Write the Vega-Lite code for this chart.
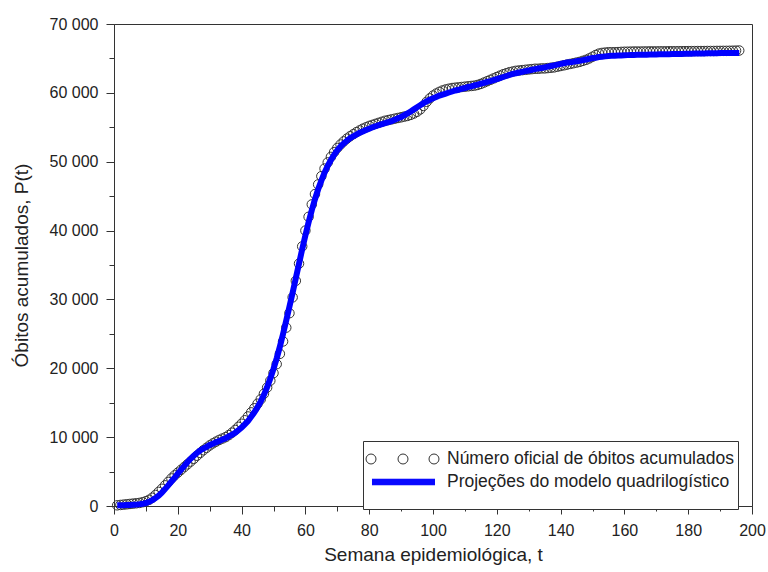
{
  "$schema": "https://vega.github.io/schema/vega-lite/v6.json",
  "width": 638,
  "height": 482,
  "autosize": "none",
  "padding": {"left": 114, "top": 24, "right": 16, "bottom": 66},
  "background": "white",
  "config": {"view": {"stroke": "#333333", "strokeWidth": 1}, "font": "Liberation Sans"},
  "resolve": {"legend": {"color": "independent"}},
  "data": {"values": [
    {"t":1,"obs":100,"model":100},{"t":2,"obs":150,"model":110},{"t":3,"obs":200,"model":120},{"t":4,"obs":250,"model":130},{"t":5,"obs":300,"model":150},
    {"t":6,"obs":350,"model":170},{"t":7,"obs":400,"model":200},{"t":8,"obs":450,"model":250},{"t":9,"obs":550,"model":320},{"t":10,"obs":700,"model":430},
    {"t":11,"obs":900,"model":600},{"t":12,"obs":1200,"model":850},{"t":13,"obs":1600,"model":1150},{"t":14,"obs":2050,"model":1500},{"t":15,"obs":2500,"model":1950},
    {"t":16,"obs":3000,"model":2450},{"t":17,"obs":3500,"model":3000},{"t":18,"obs":4000,"model":3550},{"t":19,"obs":4450,"model":4100},{"t":20,"obs":4850,"model":4700},
    {"t":21,"obs":5250,"model":5250},{"t":22,"obs":5650,"model":5800},{"t":23,"obs":6050,"model":6350},{"t":24,"obs":6450,"model":6850},{"t":25,"obs":6850,"model":7300},
    {"t":26,"obs":7300,"model":7700},{"t":27,"obs":7700,"model":8050},{"t":28,"obs":8100,"model":8350},{"t":29,"obs":8450,"model":8600},{"t":30,"obs":8800,"model":8850},
    {"t":31,"obs":9100,"model":9050},{"t":32,"obs":9350,"model":9250},{"t":33,"obs":9600,"model":9450},{"t":34,"obs":9800,"model":9650},{"t":35,"obs":10000,"model":9850},
    {"t":36,"obs":10300,"model":10100},{"t":37,"obs":10650,"model":10350},{"t":38,"obs":11050,"model":10650},{"t":39,"obs":11500,"model":11000},{"t":40,"obs":11950,"model":11400},
    {"t":41,"obs":12450,"model":11850},{"t":42,"obs":13000,"model":12350},{"t":43,"obs":13600,"model":12950},{"t":44,"obs":14200,"model":13600},{"t":45,"obs":14850,"model":14350},
    {"t":46,"obs":15500,"model":15200},{"t":47,"obs":16300,"model":16150},{"t":48,"obs":17200,"model":17250},{"t":49,"obs":18200,"model":18500},{"t":50,"obs":19300,"model":19900},
    {"t":51,"obs":20600,"model":21450},{"t":52,"obs":22100,"model":23150},{"t":53,"obs":23900,"model":25000},{"t":54,"obs":25900,"model":26950},{"t":55,"obs":28000,"model":28950},
    {"t":56,"obs":30300,"model":31000},{"t":57,"obs":32700,"model":33100},{"t":58,"obs":35200,"model":35200},{"t":59,"obs":37700,"model":37300},{"t":60,"obs":40000,"model":39300},
    {"t":61,"obs":42000,"model":41200},{"t":62,"obs":43800,"model":42950},{"t":63,"obs":45300,"model":44550},{"t":64,"obs":46700,"model":46000},{"t":65,"obs":47900,"model":47250},
    {"t":66,"obs":49000,"model":48400},{"t":67,"obs":49900,"model":49400},{"t":68,"obs":50700,"model":50250},{"t":69,"obs":51400,"model":51000},{"t":70,"obs":52000,"model":51650},
    {"t":71,"obs":52500,"model":52200},{"t":72,"obs":52950,"model":52650},{"t":73,"obs":53350,"model":53050},{"t":74,"obs":53700,"model":53400},{"t":75,"obs":54000,"model":53700},
    {"t":76,"obs":54300,"model":53950},{"t":77,"obs":54550,"model":54200},{"t":78,"obs":54800,"model":54400},{"t":79,"obs":55000,"model":54600},{"t":80,"obs":55200,"model":54800},
    {"t":81,"obs":55350,"model":55000},{"t":82,"obs":55500,"model":55150},{"t":83,"obs":55650,"model":55300},{"t":84,"obs":55800,"model":55450},{"t":85,"obs":55950,"model":55600},
    {"t":86,"obs":56050,"model":55750},{"t":87,"obs":56150,"model":55900},{"t":88,"obs":56250,"model":56100},{"t":89,"obs":56350,"model":56300},{"t":90,"obs":56450,"model":56500},
    {"t":91,"obs":56550,"model":56750},{"t":92,"obs":56650,"model":57000},{"t":93,"obs":56800,"model":57300},{"t":94,"obs":57000,"model":57600},{"t":95,"obs":57250,"model":57900},
    {"t":96,"obs":57600,"model":58200},{"t":97,"obs":58100,"model":58500},{"t":98,"obs":58700,"model":58750},{"t":99,"obs":59200,"model":59000},{"t":100,"obs":59600,"model":59200},
    {"t":101,"obs":59900,"model":59400},{"t":102,"obs":60150,"model":59600},{"t":103,"obs":60350,"model":59750},{"t":104,"obs":60500,"model":59900},{"t":105,"obs":60600,"model":60050},
    {"t":106,"obs":60700,"model":60200},{"t":107,"obs":60750,"model":60350},{"t":108,"obs":60800,"model":60450},{"t":109,"obs":60850,"model":60600},{"t":110,"obs":60900,"model":60700},
    {"t":111,"obs":60950,"model":60850},{"t":112,"obs":61000,"model":60950},{"t":113,"obs":61050,"model":61100},{"t":114,"obs":61150,"model":61200},{"t":115,"obs":61300,"model":61350},
    {"t":116,"obs":61500,"model":61450},{"t":117,"obs":61700,"model":61600},{"t":118,"obs":61900,"model":61700},{"t":119,"obs":62100,"model":61850},{"t":120,"obs":62300,"model":62000},
    {"t":121,"obs":62500,"model":62150},{"t":122,"obs":62700,"model":62300},{"t":123,"obs":62850,"model":62450},{"t":124,"obs":63000,"model":62600},{"t":125,"obs":63100,"model":62750},
    {"t":126,"obs":63200,"model":62850},{"t":127,"obs":63250,"model":62950},{"t":128,"obs":63300,"model":63050},{"t":129,"obs":63350,"model":63150},{"t":130,"obs":63400,"model":63250},
    {"t":131,"obs":63450,"model":63350},{"t":132,"obs":63500,"model":63450},{"t":133,"obs":63500,"model":63550},{"t":134,"obs":63550,"model":63600},{"t":135,"obs":63550,"model":63700},
    {"t":136,"obs":63600,"model":63800},{"t":137,"obs":63650,"model":63900},{"t":138,"obs":63700,"model":64000},{"t":139,"obs":63800,"model":64100},{"t":140,"obs":63900,"model":64200},
    {"t":141,"obs":64000,"model":64300},{"t":142,"obs":64100,"model":64400},{"t":143,"obs":64200,"model":64450},{"t":144,"obs":64300,"model":64500},{"t":145,"obs":64400,"model":64600},
    {"t":146,"obs":64500,"model":64650},{"t":147,"obs":64650,"model":64750},{"t":148,"obs":64800,"model":64850},{"t":149,"obs":65000,"model":64950},{"t":150,"obs":65250,"model":65050},
    {"t":151,"obs":65500,"model":65100},{"t":152,"obs":65700,"model":65200},{"t":153,"obs":65800,"model":65250},{"t":154,"obs":65850,"model":65300},{"t":155,"obs":65900,"model":65350},
    {"t":156,"obs":65900,"model":65380},{"t":157,"obs":65900,"model":65400},{"t":158,"obs":65920,"model":65420},{"t":159,"obs":65950,"model":65440},{"t":160,"obs":65970,"model":65460},
    {"t":161,"obs":65980,"model":65480},{"t":162,"obs":65990,"model":65500},{"t":163,"obs":66000,"model":65510},{"t":164,"obs":66000,"model":65520},{"t":165,"obs":66000,"model":65530},
    {"t":166,"obs":66010,"model":65540},{"t":167,"obs":66010,"model":65550},{"t":168,"obs":66020,"model":65560},{"t":169,"obs":66020,"model":65570},{"t":170,"obs":66020,"model":65580},
    {"t":171,"obs":66030,"model":65590},{"t":172,"obs":66030,"model":65600},{"t":173,"obs":66030,"model":65610},{"t":174,"obs":66040,"model":65620},{"t":175,"obs":66040,"model":65630},
    {"t":176,"obs":66040,"model":65640},{"t":177,"obs":66050,"model":65650},{"t":178,"obs":66050,"model":65660},{"t":179,"obs":66050,"model":65670},{"t":180,"obs":66060,"model":65680},
    {"t":181,"obs":66060,"model":65690},{"t":182,"obs":66060,"model":65700},{"t":183,"obs":66070,"model":65710},{"t":184,"obs":66070,"model":65720},{"t":185,"obs":66070,"model":65730},
    {"t":186,"obs":66080,"model":65740},{"t":187,"obs":66080,"model":65750},{"t":188,"obs":66080,"model":65760},{"t":189,"obs":66090,"model":65770},{"t":190,"obs":66090,"model":65775},
    {"t":191,"obs":66100,"model":65780},{"t":192,"obs":66100,"model":65785},{"t":193,"obs":66110,"model":65790},{"t":194,"obs":66120,"model":65795},{"t":195,"obs":66130,"model":65800},
    {"t":196,"obs":66150,"model":65800}
  ]},
  "encoding": {
    "x": {
      "field": "t", "type": "quantitative",
      "scale": {"domain": [0, 200], "nice": false},
      "axis": {
        "title": "Semana epidemiológica, t",
        "values": [0,10,20,30,40,50,60,70,80,90,100,110,120,130,140,150,160,170,180,190,200],
        "labelExpr": "datum.value % 20 === 0 ? datum.label : ''",
        "tickSize": {"condition": {"test": "datum.value % 20 === 0", "value": 8}, "value": 5},
        "labelFontSize": 16, "labelPadding": 8, "labelOverlap": false, "labelFlush": false,
        "titleFontSize": 19, "titleFontWeight": "normal", "titlePadding": 7,
        "grid": false, "domainColor": "#333333", "tickColor": "#333333",
        "labelColor": "#222222", "titleColor": "#222222",
        "labelFont": "Liberation Sans", "titleFont": "Liberation Sans"
      }
    }
  },
  "layer": [
    {
      "mark": {"type": "point", "filled": false, "size": 90, "strokeWidth": 1, "opacity": 1},
      "encoding": {
        "y": {
          "field": "obs", "type": "quantitative",
          "scale": {"domain": [0, 70000], "nice": false},
          "axis": {
            "title": "Óbitos acumulados, P(t)",
            "values": [0,5000,10000,15000,20000,25000,30000,35000,40000,45000,50000,55000,60000,65000,70000],
            "labelExpr": "datum.value % 10000 === 0 ? replace(format(datum.value, ','), ',', ' ') : ''",
            "tickSize": {"condition": {"test": "datum.value % 10000 === 0", "value": 8}, "value": 5},
            "labelFontSize": 16, "labelPadding": 8, "labelOverlap": false, "labelFlush": false,
            "titleFontSize": 19, "titleFontWeight": "normal", "titlePadding": 18,
            "grid": false, "domainColor": "#333333", "tickColor": "#333333",
            "labelColor": "#222222", "titleColor": "#222222",
            "labelFont": "Liberation Sans", "titleFont": "Liberation Sans"
          }
        },
        "color": {
          "datum": "Número oficial de óbitos acumulados",
          "scale": {
            "domain": ["Número oficial de óbitos acumulados", "Projeções do modelo quadrilogístico"],
            "range": ["#333333", "#0000ff"]
          },
          "legend": {
            "title": null,
            "orient": "none",
            "legendX": 249,
            "legendY": 417,
            "padding": 4,
            "strokeColor": "#333333",
            "fillColor": "white",
            "cornerRadius": 0,
            "labelFontSize": 17.5,
            "labelFont": "Liberation Sans",
            "labelColor": "#222222",
            "labelOffset": 52,
            "labelLimit": 500,
            "labelExpr": "datum.label + '\u00a0\u00a0\u00a0'",
            "symbolSize": 729,
            "symbolStrokeWidth": 1,
            "rowPadding": -2,
            "symbolType": {"expr": "datum.index === 0 ? 'M-0.37,0C-0.37,0.2044 -0.5356,0.37 -0.74,0.37C-0.9444,0.37 -1.11,0.2044 -1.11,0C-1.11,-0.2044 -0.9444,-0.37 -0.74,-0.37C-0.5356,-0.37 -0.37,-0.2044 -0.37,0ZM2,0C2,0.2044 1.8344,0.37 1.63,0.37C1.4256,0.37 1.26,0.2044 1.26,0C1.26,-0.2044 1.4256,-0.37 1.63,-0.37C1.8344,-0.37 2,-0.2044 2,0ZM4.296,0C4.296,0.2044 4.1304,0.37 3.926,0.37C3.7216,0.37 3.556,0.2044 3.556,0C3.556,-0.2044 3.7216,-0.37 3.926,-0.37C4.1304,-0.37 4.296,-0.2044 4.296,0Z' : 'M-0.667,-0.204H4M-0.667,-0.167H4M-0.667,-0.130H4M-0.667,-0.093H4M-0.667,-0.056H4M-0.667,-0.019H4M-0.667,0.019H4M-0.667,0.056H4M-0.667,0.093H4M-0.667,0.130H4M-0.667,0.167H4M-0.667,0.204H4M0,1.5'"}
          }
        }
      }
    },
    {
      "mark": {"type": "line", "strokeWidth": 6},
      "encoding": {
        "y": {
          "field": "model", "type": "quantitative",
          "scale": {"domain": [0, 70000], "nice": false},
          "axis": {
            "title": "Óbitos acumulados, P(t)",
            "values": [0,5000,10000,15000,20000,25000,30000,35000,40000,45000,50000,55000,60000,65000,70000],
            "labelExpr": "datum.value % 10000 === 0 ? replace(format(datum.value, ','), ',', ' ') : ''",
            "tickSize": {"condition": {"test": "datum.value % 10000 === 0", "value": 8}, "value": 5},
            "labelFontSize": 16, "labelPadding": 8, "labelOverlap": false, "labelFlush": false,
            "titleFontSize": 19, "titleFontWeight": "normal", "titlePadding": 18,
            "grid": false, "domainColor": "#333333", "tickColor": "#333333",
            "labelColor": "#222222", "titleColor": "#222222",
            "labelFont": "Liberation Sans", "titleFont": "Liberation Sans"
          }
        },
        "color": {"datum": "Projeções do modelo quadrilogístico", "legend": null}
      }
    }
  ]
}
